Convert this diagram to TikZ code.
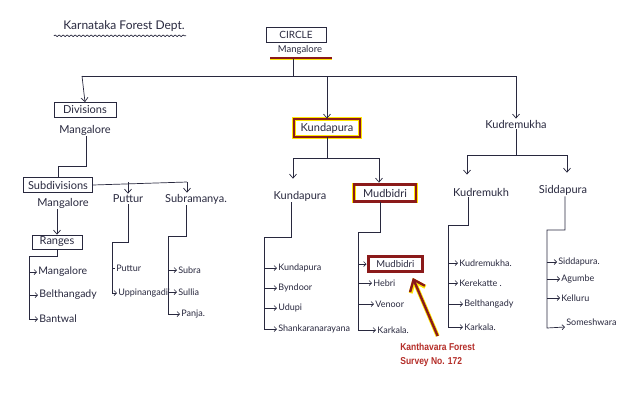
\documentclass[tikz,border=0pt]{standalone}
\usepackage{fontspec}
\setmainfont{Lato}
\newfontfamily\annfont[FakeStretch=0.85]{Liberation Sans}
\usetikzlibrary{arrows.meta,decorations.pathmorphing,calc}
\definecolor{pen}{RGB}{40,40,62}
\definecolor{maroon}{RGB}{139,26,26}
\definecolor{hly}{RGB}{255,230,0}
\definecolor{annred}{RGB}{180,45,40}
\tikzset{
  arr/.style={-{Straight Barb[length=4pt,width=7pt]}},
  sarr/.style={-{Straight Barb[length=2.5pt,width=5pt]}},
  lbl/.style={font=\fontsize{11}{13}\selectfont, inner sep=1pt},
  itm/.style={font=\fontsize{9}{11}\selectfont, inner sep=1pt, anchor=west},
  bitm/.style={itm, font=\fontsize{10.5}{12}\selectfont},
  pbox/.style={draw, lbl, minimum height=15pt},
  hlbox/.style={draw=hly, double=maroon, double distance=2.2pt, line width=0.8pt, lbl},
  hlline/.style={draw=hly, double=maroon, double distance=1.6pt, line width=0.7pt},
}
\begin{document}
\begin{tikzpicture}[x=1pt,y=-1pt,line width=0.7pt,color=pen]
\useasboundingbox (0,0) rectangle (639,400);
% title
\node[lbl, font=\fontsize{12}{14}\selectfont] (title) at (124,26) {Karnataka Forest Dept.};
\draw[decorate,decoration={snake,amplitude=0.8pt,segment length=4pt}] ([xshift=-8pt,yshift=-3pt]title.south west) -- ([yshift=-3pt]title.south east);
% circle
\node[pbox, minimum width=60pt, font=\fontsize{10}{12}\selectfont] (circle) at (296,35) {CIRCLE};
\node[lbl, font=\fontsize{9.5}{11}\selectfont] (cmang) at (300,50) {Mangalore};
\coordinate (ulL) at (270,58);
\coordinate (ulR) at (332,58);
\draw[hlline] (ulL) -- (ulR);
\coordinate (cj) at (293,59);
\coordinate (hL) at (82,76);
\coordinate (hR) at (516,76);
\draw (cj) -- (cj |- hL);
\draw (hL) -- (hR);
% left: divisions
\node[pbox, minimum width=62pt] (div) at (85,110) {Divisions};
\draw[arr] (hL) -- (div.north);
\node[lbl] (dmang) at (85,130) {Mangalore};
\node[pbox, minimum width=69pt] (subd) at (58,185) {Subdivisions};
\coordinate (sdj) at (86,166);
\draw (dmang.south -| sdj) -- (sdj) -| (subd.north);
\node[lbl] (put) at (128,199) {Puttur};
\node[lbl] (sub) at (196,199) {Subramanya.};
\node[lbl] (smang) at (63,203) {Mangalore};
\coordinate (sbR) at (187,182);
\draw (subd.east) -- (sbR);
\draw[arr] (put.north |- sbR) -- (put.north);
\draw[arr] (sbR) -- (sbR |- sub.north);
\node[pbox, minimum width=50pt, minimum height=14pt] (rng) at (57,242) {Ranges};
\draw[arr] (rng.north |- smang.south) -- (rng.north);
% ranges list
\node[bitm] (r1) at (37,272) {Mangalore};
\node[bitm] (r2) at (38,295) {Belthangady};
\node[bitm] (r3) at (38,319) {Bantwal};
\coordinate (rb) at (29,256);
\draw[sarr] (rng.south) |- (rb) -- (rb |- r3.west) -- (r3.west);
\draw[sarr] (rb |- r1.west) -- (r1.west);
\draw[sarr] (rb |- r2.west) -- (r2.west);
% puttur list
\node[itm] (p1) at (115,268) {Puttur};
\node[itm] (p2) at (117,293) {Uppinangadi'};
\coordinate (pb) at (112,242);
\draw[sarr] (put.south) |- (pb) -- (pb |- p2.west) -- (p2.west);
\draw (pb |- p1.west) -- (p1.west);
% subramanya list
\node[itm] (s1) at (177,270) {Subra};
\node[itm] (s2) at (177,292) {Sullia};
\node[itm] (s3) at (180,314) {Panja.};
\coordinate (sb) at (168,236);
\draw[sarr] ([xshift=-10pt]sub.south) |- (sb) -- (sb |- s3.west) -- (s3.west);
\draw[sarr] (sb |- s1.west) -- (s1.west);
\draw[sarr] (sb |- s2.west) -- (s2.west);
% centre: Kundapura
\node[hlbox, minimum width=66pt, minimum height=18pt] (kb) at (327,128) {Kundapura};
\draw[arr] (kb.north |- hL) -- (kb.north);
\coordinate (kj1) at (293,158);
\coordinate (kj2) at (379,158);
\draw (kb.south) -- (kb.south |- kj1);
\draw (kj1) -- (kj2);
\node[lbl] (kun) at (300,196) {Kundapura};
\node[hlbox, minimum width=62pt, minimum height=17pt] (mb) at (385,193) {Mudbidri};
\draw[arr, shorten >=11pt] (kj1) -- (kj1 |- kun.north);
\draw[arr, shorten >=1.5pt] (kj2) -- (kj2 |- mb.north);
% kundapura list
\node[itm] (k1) at (277,268) {Kundapura};
\node[itm] (k2) at (277,288) {Byndoor};
\node[itm] (k3) at (277,308) {Udupi};
\node[itm] (k4) at (277,329) {Shankaranarayana};
\coordinate (kbus) at (264,237);
\draw[sarr] ([xshift=-9pt]kun.south) |- (kbus) -- (kbus |- k4.west) -- (k4.west);
\draw[sarr] (kbus |- k1.west) -- (k1.west);
\draw[sarr] (kbus |- k2.west) -- (k2.west);
\draw[sarr] (kbus |- k3.west) -- (k3.west);
% mudbidri list
\node[hlbox, anchor=west, minimum width=54pt, minimum height=15pt, font=\fontsize{9.5}{11}\selectfont] (m1) at (368,264) {Mudbidri};
\node[itm] (m2) at (372,283) {Hebri};
\node[itm] (m3) at (374,304) {Venoor};
\node[itm] (m4) at (376,330) {Karkala.};
\coordinate (mbus) at (358,232);
\draw[sarr] ([xshift=-5pt]mb.south) |- (mbus) -- (mbus |- m4.west) -- (m4.west);
\draw[sarr, shorten >=1.5pt] (mbus |- m1.west) -- (m1.west);
\draw[sarr] (mbus |- m2.west) -- (m2.west);
\draw[sarr] (mbus |- m3.west) -- (m3.west);
% annotation
\node[anchor=north west, align=left, font=\annfont\bfseries\fontsize{10}{14}\selectfont, text=annred, inner sep=0pt] (ann) at (400,343) {Kanthavara Forest\\Survey No. 172};
\draw[hly, line width=4pt, -{Straight Barb[length=10pt,width=16pt]}] ([yshift=7pt]ann.north) -- ([xshift=-10pt,yshift=-6pt]m1.south east);
\draw[maroon, line width=2.4pt, -{Straight Barb[length=10pt,width=16pt]}] ([yshift=7pt]ann.north) -- ([xshift=-10pt,yshift=-6pt]m1.south east);
% right: Kudremukha
\node[lbl] (kh) at (516,124) {Kudremukha};
\draw[arr] (hR) -- (kh.north);
\coordinate (rj1) at (467,155);
\coordinate (rj2) at (567,155);
\draw (kh.south) -- (kh.south |- rj1);
\draw (rj1) -- (rj2);
\node[lbl] (kud) at (481,192) {Kudremukh};
\node[lbl] (sid) at (563,190) {Siddapura};
\draw[arr, shorten >=12pt] (rj1) -- (rj1 |- kud.north);
\draw[arr, shorten >=11pt] (rj2) -- (rj2 |- sid.north);
% kudremukh list
\node[itm] (u1) at (458,263) {Kudremukha.};
\node[itm] (u2) at (458,283) {Kerekatte .};
\node[itm] (u3) at (463,304) {Belthangady};
\node[itm] (u4) at (463,327) {Karkala.};
\coordinate (ubus) at (448,225);
\draw[sarr] ([xshift=-13pt]kud.south) |- (ubus) -- (ubus |- u4.west) -- (u4.west);
\draw[sarr] (ubus |- u1.west) -- (u1.west);
\draw[sarr] (ubus |- u2.west) -- (u2.west);
\draw[sarr] (ubus |- u3.west) -- (u3.west);
% siddapura list
\node[itm] (d1) at (557,262) {Siddapura.};
\node[itm] (d2) at (560,279) {Agumbe};
\node[itm] (d3) at (560,298) {Kelluru};
\node[itm] (d4) at (565,322) {Someshwara};
\coordinate (dbus) at (547,230);
\coordinate (dend) at (547,328);
\draw[sarr] ([xshift=2pt]sid.south) |- (dbus) -- (dend) -- ([yshift=-5pt]d4.west);
\draw[sarr] (dbus |- d1.west) -- (d1.west);
\draw[sarr] (dbus |- d2.west) -- (d2.west);
\draw[sarr] (dbus |- d3.west) -- (d3.west);
\end{tikzpicture}
\end{document}
